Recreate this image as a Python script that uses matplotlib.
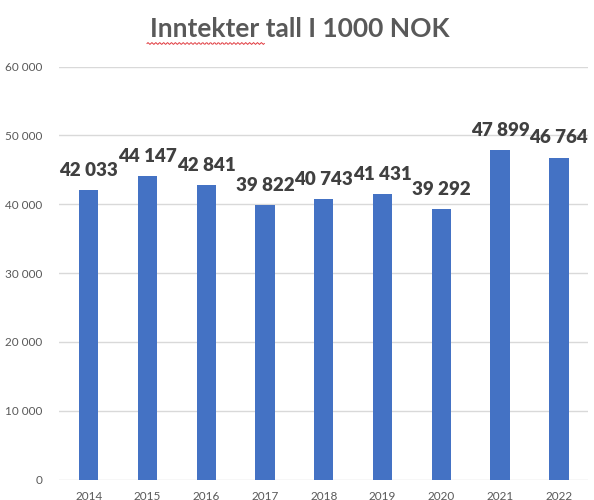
import numpy as np
import matplotlib.pyplot as plt
from matplotlib.ticker import FuncFormatter

# Inntekter per år (tall i 1000 NOK)
years = ['2014', '2015', '2016', '2017', '2018', '2019', '2020', '2021', '2022']
revenue = [42033, 44147, 42841, 39822, 40743, 41431, 39292, 47899, 46764]

bar_color = '#4472C4'
text_grey = '#595959'
label_grey = '#404040'
grid_grey = '#D9D9D9'

plt.rcParams['font.family'] = ['Lato', 'DejaVu Sans']

fig = plt.figure(figsize=(5.94, 5.0), dpi=100)
ax = fig.add_axes([0.0998, 0.041, 0.8905, 0.826])

x = np.arange(len(years))
bars = ax.bar(x, revenue, width=0.33, color=bar_color, zorder=3)

ax.set_xlim(-0.5, len(years) - 0.5)
ax.set_ylim(0, 60000)
ax.set_yticks(np.arange(0, 60001, 10000))
ax.yaxis.set_major_formatter(FuncFormatter(lambda v, p: f'{int(v):,}'.replace(',', ' ')))
ax.set_xticks(x)
ax.set_xticklabels(years)

ax.grid(axis='y', color=grid_grey, linewidth=1.0, zorder=0)
for s in ax.spines.values():
    s.set_visible(False)
ax.tick_params(axis='both', length=0, labelsize=8.5, labelcolor=text_grey)
ax.tick_params(axis='y', pad=12)
ax.tick_params(axis='x', pad=8)

# dataetiketter over søylene
for xi, v in zip(x, revenue):
    ax.annotate(f'{v:,}'.replace(',', ' '), (xi, v), xytext=(0, 8),
                textcoords='offset points', ha='center', va='bottom',
                fontsize=13.5, fontweight='heavy', color=label_grey)

fig.text(0.505, 0.942, 'Inntekter tall I 1000 NOK', ha='center', va='center',
         fontsize=19, fontweight='bold', color=text_grey)

# rød bølgelinje under "Inntekter"
wx = np.linspace(0.2475, 0.445, 120)
wy = 0.913 + 0.0018 * np.sin(np.linspace(0, 60 * np.pi, 120))
fig.add_artist(plt.Line2D(wx, wy, color='#E0393E', linewidth=0.7))

fig.savefig('out.png', dpi=100)
